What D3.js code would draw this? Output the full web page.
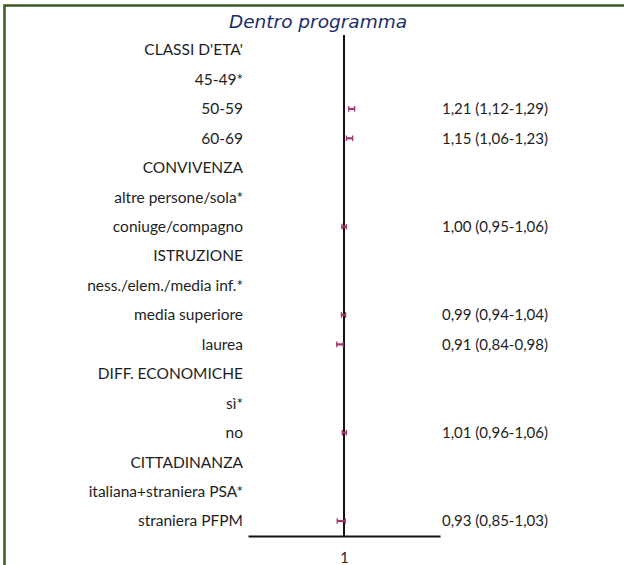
<!DOCTYPE html>
<html><head><meta charset="utf-8">
<script src="https://cdn.jsdelivr.net/npm/d3@7"></script>
<style>body{margin:0;background:#fff}svg{display:block}</style>
</head><body>
<svg id="c" width="624" height="565"></svg>
<script>
const labels = ["CLASSI D'ETA'","45-49*","50-59","60-69","CONVIVENZA","altre persone/sola*","coniuge/compagno","ISTRUZIONE","ness./elem./media inf.*","media superiore","laurea","DIFF. ECONOMICHE","sì*","no","CITTADINANZA","italiana+straniera PSA*","straniera PFPM"];
const estimate = [null,null,1.21,1.15,null,null,1.00,null,null,0.99,0.91,null,null,1.01,null,null,0.93];
const lower    = [null,null,1.12,1.06,null,null,0.95,null,null,0.94,0.84,null,null,0.96,null,null,0.85];
const upper    = [null,null,1.29,1.23,null,null,1.06,null,null,1.04,0.98,null,null,1.06,null,null,1.03];
const xTicks = [1];
const title = "Dentro programma";

const svg = d3.select("#c");
const fmt = v => v.toFixed(2).replace(".", ",");
const FONT = "Lato, 'Open Sans', sans-serif";

svg.append("rect").attr("x",4.5).attr("y",5.5).attr("width",640).attr("height",600)
  .attr("fill","none").attr("stroke","#3b5a22").attr("stroke-width",2.5);

svg.append("text").attr("x",318).attr("y",28).attr("text-anchor","middle")
  .attr("font-family","'DejaVu Sans', sans-serif").attr("font-style","italic")
  .attr("font-size",18.5).attr("fill","#1b2d6b").text(title);

const x = d3.scaleLog().domain([0.1,10]).range([248,440]);
const y = d3.scalePoint().domain(d3.range(labels.length)).range([50,521]);

const axisG = svg.append("g").attr("transform","translate(0,536)")
  .call(d3.axisBottom(x).tickValues(xTicks).tickFormat(d=>String(d)).tickSize(0).tickPadding(17));
axisG.select(".domain").attr("stroke","#111").attr("stroke-width",2);
axisG.selectAll("text").attr("font-family",FONT).attr("font-size",14.5).attr("fill","#222");

svg.append("line").attr("x1",x(1)).attr("x2",x(1)).attr("y1",35).attr("y2",536)
  .attr("stroke","#111").attr("stroke-width",2);

svg.append("g").selectAll("text").data(labels).join("text")
  .attr("x",243).attr("y",(d,i)=>y(i)).attr("dy","0.35em").attr("text-anchor","end")
  .attr("font-family",FONT).attr("font-size",15.5).attr("fill","#1e1e1e")
  .text(d=>d);

const rows = d3.range(labels.length).filter(i=>estimate[i]!=null);
const col = "#a3386f";
const g = svg.append("g");
rows.forEach(i=>{
  const yy = y(i);
  g.append("line").attr("x1",x(lower[i])).attr("x2",x(upper[i])).attr("y1",yy).attr("y2",yy)
    .attr("stroke",col).attr("stroke-width",2.2);
  [lower[i],upper[i]].forEach(v=>g.append("line").attr("x1",x(v)).attr("x2",x(v))
    .attr("y1",yy-2.8).attr("y2",yy+2.8).attr("stroke",col).attr("stroke-width",1.3));
  svg.append("text").attr("x",442).attr("y",yy).attr("dy","0.35em")
    .attr("font-family",FONT).attr("font-size",15).attr("fill","#1e1e1e")
    .text(`${fmt(estimate[i])} (${fmt(lower[i])}-${fmt(upper[i])})`);
});
</script>
</body></html>
